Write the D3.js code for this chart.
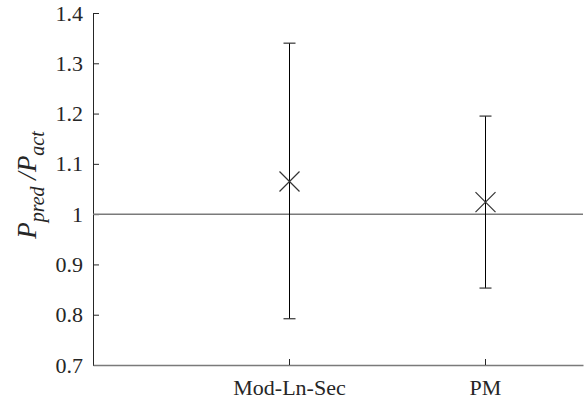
<!DOCTYPE html>
<html>
<head>
<meta charset="utf-8">
<script src="https://cdn.jsdelivr.net/npm/d3@7"></script>
<style>
  body { margin: 0; background: #fff; }
  svg { display: block; font-family: "Liberation Serif", "Times New Roman", serif; }
</style>
</head>
<body>
<svg id="chart" width="587" height="403"></svg>
<script>
const categories = ["Mod-Ln-Sec", "PM"];
const ratioMean = [1.065, 1.024];
const ratioLow = [0.792, 0.853];
const ratioHigh = [1.340, 1.195];
const yTicks = [0.7, 0.8, 0.9, 1, 1.1, 1.2, 1.3, 1.4];

const svg = d3.select("#chart");
const mLeft = 93, mRight = 583, mTop = 13, mBottom = 365;

const x = d3.scaleLinear()
            .domain([0, categories.length + 0.5])
            .range([mLeft, mRight]);

const y = d3.scaleLinear()
            .domain([0.7, 1.4])
            .range([mBottom, mTop]);

// y axis, ticks pointing inward
const yAxis = d3.axisLeft(y)
    .tickValues(yTicks)
    .tickFormat(d => d3.format("")(+d.toFixed(1)))
    .tickSizeInner(-6)
    .tickSizeOuter(0)
    .tickPadding(10);

svg.append("g")
    .attr("transform", `translate(${mLeft},0)`)
    .call(yAxis)
    .attr("font-family", null)
    .attr("font-size", 22)
    .call(g => g.selectAll("text").attr("fill", "#262626"))
    .call(g => g.selectAll("line").attr("stroke", "#262626"))
    .call(g => g.select(".domain").attr("stroke", "#262626"));

// x axis
const xAxis = d3.axisBottom(x)
    .tickValues(categories.map((c, i) => i + 1))
    .tickFormat((d, i) => categories[i])
    .tickSizeInner(-6)
    .tickSizeOuter(0)
    .tickPadding(14);

svg.append("g")
    .attr("transform", `translate(0,${mBottom})`)
    .call(xAxis)
    .attr("font-family", null)
    .attr("font-size", 22)
    .call(g => g.selectAll("text").attr("fill", "#262626"))
    .call(g => g.selectAll("line").attr("stroke", "#262626"))
    .call(g => g.select(".domain").attr("stroke", "#7a7a7a").attr("stroke-width", 1.5));

// reference line at 1
svg.append("line")
    .attr("x1", mLeft).attr("x2", mRight)
    .attr("y1", y(1)).attr("y2", y(1))
    .attr("stroke", "#7a7a7a")
    .attr("stroke-width", 1.5);

// error bars
const bars = svg.append("g");
categories.forEach((c, i) => {
    const cx = Math.round(x(i + 1)) + 0.5;
    bars.append("line")
        .attr("x1", cx).attr("x2", cx)
        .attr("y1", y(ratioLow[i])).attr("y2", y(ratioHigh[i]))
        .attr("stroke", "#000");
    [ratioLow[i], ratioHigh[i]].forEach(v => {
        bars.append("line")
            .attr("x1", cx - 6).attr("x2", cx + 6)
            .attr("y1", y(v)).attr("y2", y(v))
            .attr("stroke", "#333")
            .attr("stroke-width", 1.2);
    });
    const cy = y(ratioMean[i]);
    const s = 10;
    bars.append("path")
        .attr("d", `M${cx - s},${cy - s}L${cx + s},${cy + s}M${cx - s},${cy + s}L${cx + s},${cy - s}`)
        .attr("stroke", "#333")
        .attr("stroke-width", 1.2)
        .attr("fill", "none");
});

// y label: P_pred / P_act
const label = svg.append("text")
    .attr("transform", `translate(36,185) rotate(-90)`)
    .attr("text-anchor", "middle")
    .attr("font-size", 27)
    .attr("font-style", "italic")
    .attr("fill", "#262626");
label.append("tspan").text("P");
label.append("tspan").attr("font-size", 20).attr("dy", 8).text("pred");
label.append("tspan").attr("dy", -8).text("\u00A0/P");
label.append("tspan").attr("font-size", 20).attr("dy", 8).text("act");
</script>
</body>
</html>
